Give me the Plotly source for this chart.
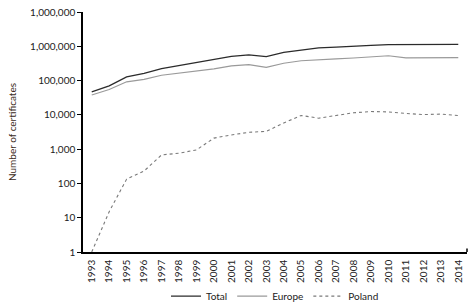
import plotly.graph_objects as go

years = [str(y) for y in range(1993, 2015)]
total = [46571, 70364, 127349, 162701, 223299, 271847, 343643, 408631, 510616, 561747,
         497919, 660132, 773867, 896929, 951486, 982832, 1064785, 1118510, 1111698,
         1101272, 1126460, 1138155]
europe = [38000, 55000, 92000, 109000, 143000, 166000, 190000, 220000, 269000, 292000,
          242000, 320000, 378000, 414000, 431000, 455000, 497000, 530000, 460000,
          470000, 480000, 470000]
poland = [1, 15, 134, 230, 680, 760, 950, 2100, 2600, 3100, 3300, 5800, 9600, 8000,
          9600, 11500, 12500, 12200, 11000, 10200, 10500, 9600]
y_tickvals = [1, 10, 100, 1000, 10000, 100000, 1000000, 10000000]
y_ticktext = ["1", "10", "100", "1,000", "10,000", "100,000", "1,000,000", "1,000,000"]

font = "Lato, Open Sans, sans-serif"
fig = go.Figure()
fig.add_trace(go.Scatter(x=years, y=total, mode="lines", name="Total",
                         line=dict(color="#2b2b2b", width=1.3)))
fig.add_trace(go.Scatter(x=years, y=europe, mode="lines", name="Europe",
                         line=dict(color="#9a9a9a", width=1.2)))
fig.add_trace(go.Scatter(x=years, y=poland, mode="lines", name="Poland",
                         line=dict(color="#7a7a7a", width=1.1, dash="3px,3px")))

fig.update_layout(
    width=473, height=304,
    margin=dict(l=83, r=6, t=12, b=52),
    paper_bgcolor="white", plot_bgcolor="white",
    font=dict(family=font, size=10, color="#222"),
    showlegend=True,
    legend=dict(orientation="h", x=0.5, xanchor="center", xref="paper",
                y=0.026, yanchor="middle", yref="container",
                bgcolor="rgba(0,0,0,0)",
                font=dict(size=10), itemwidth=30, tracegroupgap=0),
)
fig.update_xaxes(type="category", range=[-0.5, 21.5], showline=True, linecolor="black",
                 linewidth=1.5, ticks="", tickangle=-90, showgrid=False, automargin=False,
                 tickfont=dict(size=10), ticklabelstandoff=2)
fig.update_yaxes(type="log", range=[0, 7], showline=True, linecolor="black", linewidth=1.5,
                 ticks="outside", ticklen=4, tickcolor="black", tickvals=y_tickvals,
                 ticktext=y_ticktext, showgrid=False, zeroline=False, automargin=False,
                 tickfont=dict(size=10),
                 title=dict(text="Number of certificates", font=dict(size=10, color="#3a2a20"),
                            standoff=12))
fig.add_shape(type="line", xref="paper", yref="paper", x0=1, x1=1, y0=0, y1=0.015,
              line=dict(color="black", width=1.5))
fig.write_html("out.html", config={"displayModeBar": False},
               post_script="document.body.style.margin='0px';")
